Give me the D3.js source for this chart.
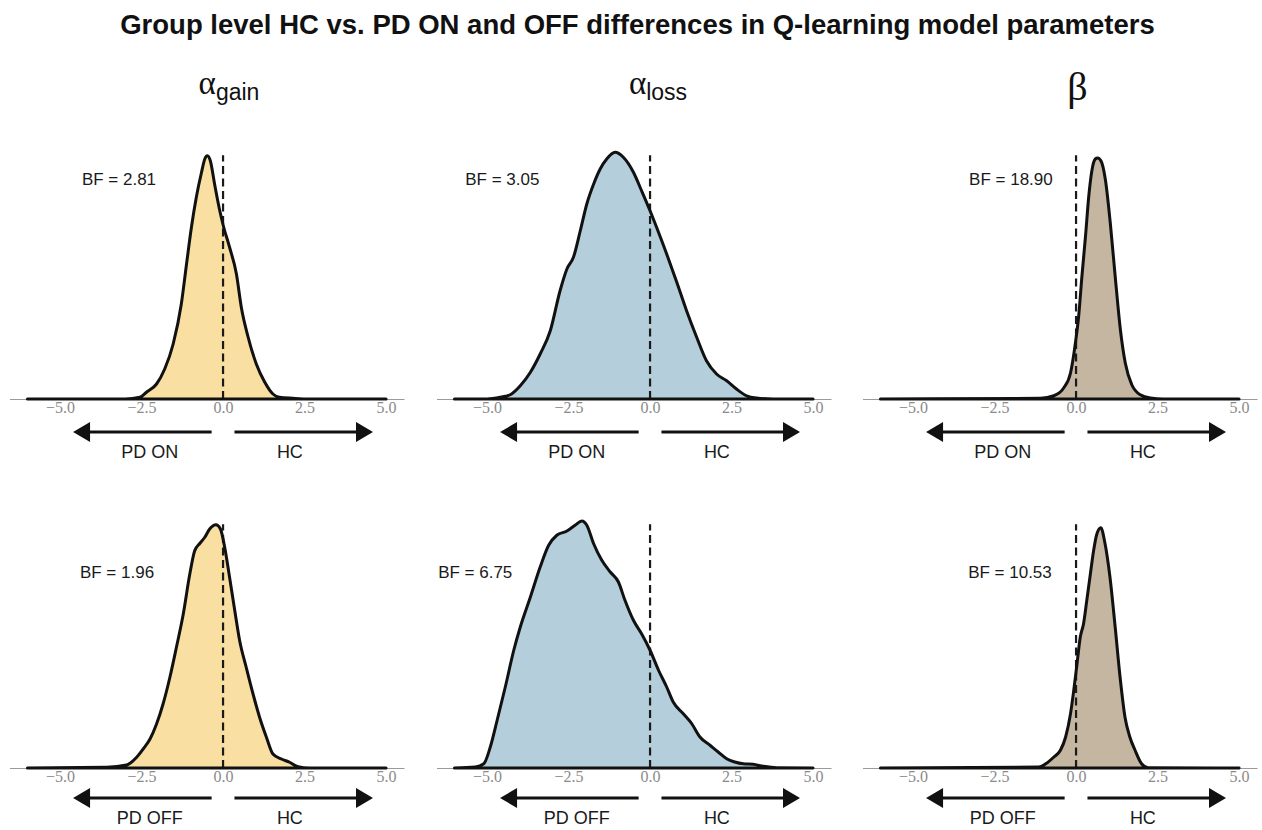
<!DOCTYPE html>
<html>
<head>
<meta charset="utf-8">
<script src="https://cdn.jsdelivr.net/npm/d3@7"></script>
<style>
  body { margin: 0; background: #fff; }
  svg { display: block; }
</style>
</head>
<body>
<svg id="chart" width="1262" height="830"></svg>
<script>
// ---- Data -------------------------------------------------------------
// Posterior densities of the group difference (HC minus PD), scaled so the
// tallest density in the figure is about 1. Each entry is [difference, density].
const densAlphaGainOn = [
  [-6, 0], [-3, 0], [-2.55, 0.007], [-2.35, 0.027], [-2.04, 0.06], [-1.79, 0.12],
  [-1.53, 0.22], [-1.28, 0.38], [-1.12, 0.54], [-0.97, 0.687], [-0.82, 0.807],
  [-0.66, 0.907], [-0.56, 0.96], [-0.48, 0.973], [-0.39, 0.953], [-0.26, 0.86],
  [-0.10, 0.753], [0.02, 0.687], [0.20, 0.607], [0.41, 0.5], [0.56, 0.367],
  [0.77, 0.247], [1.02, 0.14], [1.28, 0.067], [1.53, 0.02], [1.73, 0.007],
  [2.14, 0.003], [2.65, 0], [5, 0]
];
const densAlphaLossOn = [
  [-6, 0], [-5, 0], [-4.59, 0.007], [-4.29, 0.017], [-3.98, 0.053], [-3.67, 0.107],
  [-3.37, 0.18], [-3.06, 0.273], [-2.76, 0.433], [-2.55, 0.52], [-2.35, 0.567],
  [-2.14, 0.673], [-1.94, 0.78], [-1.73, 0.86], [-1.53, 0.92], [-1.33, 0.96],
  [-1.07, 0.987], [-0.82, 0.967], [-0.51, 0.907], [-0.26, 0.833], [0, 0.753],
  [0.20, 0.687], [0.51, 0.58], [0.82, 0.467], [1.12, 0.353], [1.43, 0.247],
  [1.73, 0.153], [2.04, 0.1], [2.35, 0.073], [2.65, 0.04], [2.96, 0.013],
  [3.27, 0.004], [3.78, 0], [5, 0]
];
const densBetaOn = [
  [-6, 0], [-1.09, 0.003], [-0.68, 0.013], [-0.38, 0.044], [-0.17, 0.104],
  [-0.02, 0.224], [0.08, 0.331], [0.18, 0.491], [0.29, 0.651], [0.39, 0.811],
  [0.49, 0.917], [0.59, 0.96], [0.66, 0.964], [0.77, 0.951], [0.90, 0.877],
  [1.05, 0.704], [1.20, 0.491], [1.36, 0.277], [1.51, 0.144], [1.71, 0.057],
  [1.97, 0.017], [2.28, 0.004], [2.68, 0], [5, 0]
];
const densAlphaGainOff = [
  [-6, 0], [-3.57, 0.003], [-2.96, 0.012], [-2.65, 0.043], [-2.45, 0.076],
  [-2.24, 0.116], [-2.04, 0.176], [-1.84, 0.256], [-1.63, 0.363], [-1.43, 0.483],
  [-1.22, 0.616], [-1.02, 0.776], [-0.87, 0.869], [-0.71, 0.899], [-0.56, 0.923],
  [-0.41, 0.956], [-0.22, 0.973], [-0.08, 0.956], [0.05, 0.883], [0.20, 0.763],
  [0.36, 0.629], [0.51, 0.509], [0.71, 0.403], [0.92, 0.296], [1.12, 0.203],
  [1.33, 0.123], [1.53, 0.056], [1.79, 0.036], [2.04, 0.023], [2.30, 0.005],
  [2.65, 0], [5, 0]
];
const densAlphaLossOff = [
  [-6, 0], [-5.36, 0.004], [-5.10, 0.017], [-4.90, 0.084], [-4.69, 0.191],
  [-4.44, 0.324], [-4.18, 0.471], [-3.98, 0.564], [-3.67, 0.684], [-3.37, 0.804],
  [-3.11, 0.891], [-2.86, 0.931], [-2.55, 0.948], [-2.30, 0.971], [-2.09, 0.988],
  [-1.94, 0.971], [-1.73, 0.897], [-1.48, 0.831], [-1.22, 0.784], [-0.97, 0.744],
  [-0.77, 0.671], [-0.51, 0.591], [-0.26, 0.537], [0, 0.471], [0.26, 0.391],
  [0.51, 0.324], [0.71, 0.264], [1.02, 0.217], [1.28, 0.177], [1.53, 0.124],
  [1.84, 0.091], [2.09, 0.064], [2.35, 0.037], [2.60, 0.024], [2.86, 0.017],
  [3.16, 0.015], [3.47, 0.007], [3.88, 0.001], [5, 0]
];
const densBetaOff = [
  [-6, 0], [-1.14, 0.004], [-0.93, 0.017], [-0.68, 0.044], [-0.48, 0.071],
  [-0.32, 0.124], [-0.17, 0.217], [-0.07, 0.311], [0.03, 0.417], [0.13, 0.524],
  [0.23, 0.577], [0.33, 0.671], [0.44, 0.777], [0.54, 0.871], [0.64, 0.937],
  [0.76, 0.961], [0.89, 0.897], [1.04, 0.764], [1.20, 0.564], [1.35, 0.364],
  [1.50, 0.204], [1.65, 0.124], [1.81, 0.071], [2.01, 0.017], [2.21, 0.001],
  [5, 0]
];

// Model parameters (columns) and patient conditions (rows)
const paramSymbols = ["α", "α", "β"];
const paramSubscripts = ["gain", "loss", ""];
const conditions = ["PD ON", "PD OFF"];
const groupHC = "HC";
// Bayes factors per row (condition) and column (parameter)
const bayesOn = [2.81, 3.05, 18.90];
const bayesOff = [1.96, 6.75, 10.53];
const xTicks = [-5, -2.5, 0, 2.5, 5];

const titleText = "Group level HC vs. PD ON and OFF differences in Q-learning model parameters";

// ---- Layout & style ---------------------------------------------------
const colLeft = [9.5, 436.5, 862.5];
const panelWidth = 394.5;
const xDomain = [-6.55, 5.55];
const rowAxisY = [399, 768];
const densityPx = 250;
const headerX = [229, 658, 1077.5];
const bfBaseline = [185, 578];
const bfAnchorX = [[-4.33, -5.67, -3.28], [-4.39, -6.5, -3.31]];
const arrowY = [432, 798];
const arrowLabelY = [458, 824];
const fills = ["#F9DFA1", "#B4CFDB", "#C4B6A0"];
const sans = "'Liberation Sans', Arial, Helvetica, sans-serif";
const serif = "'Liberation Serif', 'Times New Roman', serif";

const rows = [
  { cond: conditions[0], dens: [densAlphaGainOn, densAlphaLossOn, densBetaOn], bf: bayesOn },
  { cond: conditions[1], dens: [densAlphaGainOff, densAlphaLossOff, densBetaOff], bf: bayesOff }
];

const svg = d3.select("#chart");

// Title
svg.append("text")
  .attr("x", 637.5).attr("y", 34)
  .attr("text-anchor", "middle")
  .attr("font-family", sans)
  .attr("font-weight", "bold")
  .attr("font-size", 27.5)
  .attr("fill", "#111")
  .text(titleText);

// Column headers: Greek symbol with a subscript
paramSymbols.forEach((sym, c) => {
  const t = svg.append("text")
    .attr("x", headerX[c])
    .attr("y", c === 2 ? 100 : 94)
    .attr("text-anchor", "middle")
    .attr("fill", "#111");
  t.append("tspan")
    .attr("font-family", serif)
    .attr("font-size", c === 2 ? 40 : 33)
    .text(sym);
  if (paramSubscripts[c]) {
    t.append("tspan")
      .attr("font-family", sans)
      .attr("font-size", 23)
      .attr("dy", 5.5)
      .text(paramSubscripts[c]);
  }
});

const tickFmt = d3.format(".1f");

rows.forEach((row, r) => {
  const axisY = rowAxisY[r];
  const y = d3.scaleLinear().domain([0, 1]).range([axisY, axisY - densityPx]);

  row.dens.forEach((dens, c) => {
    const x = d3.scaleLinear().domain(xDomain).range([colLeft[c], colLeft[c] + panelWidth]);
    const g = svg.append("g");

    // x axis (gray baseline with serif tick labels)
    const axis = g.append("g")
      .attr("transform", `translate(0,${axisY})`)
      .call(d3.axisBottom(x).tickValues(xTicks).tickFormat(tickFmt)
        .tickSize(0).tickSizeOuter(0).tickPadding(3));
    axis.attr("font-size", 16).attr("font-family", serif);
    axis.select(".domain").attr("stroke", "#9a9a9a").attr("stroke-width", 1);
    axis.selectAll("text")
      .attr("font-family", serif)
      .attr("font-size", 16)
      .attr("fill", "#8a8a8a");

    // density fill and outline
    const area = d3.area()
      .x(d => x(d[0]))
      .y0(y(0))
      .y1(d => y(d[1]))
      .curve(d3.curveMonotoneX);
    g.append("path")
      .datum(dens)
      .attr("d", area)
      .attr("fill", fills[c])
      .attr("stroke", "none");

    // zero reference line
    g.append("line")
      .attr("x1", x(0)).attr("x2", x(0))
      .attr("y1", y(0)).attr("y2", y(0.975))
      .attr("stroke", "#1a1a1a")
      .attr("stroke-width", 2.2)
      .attr("stroke-dasharray", "8,4.5");

    g.append("path")
      .datum(dens)
      .attr("d", area)
      .attr("fill", "none")
      .attr("stroke", "#111")
      .attr("stroke-width", 3)
      .attr("stroke-linejoin", "round");

    // Bayes factor annotation
    g.append("text")
      .attr("x", x(bfAnchorX[r][c]))
      .attr("y", bfBaseline[r])
      .attr("font-family", sans)
      .attr("font-size", 17)
      .attr("fill", "#1a1a1a")
      .text(`BF = ${d3.format(".2f")(row.bf[c])}`);

    // direction arrows
    const ay = arrowY[r];
    const headLen = 17, headHalf = 10;
    const arrows = [
      { from: -0.35, tip: -4.6, dir: -1 },
      { from: 0.35, tip: 4.6, dir: 1 }
    ];
    arrows.forEach(a => {
      const xt = x(a.tip);
      g.append("line")
        .attr("x1", x(a.from)).attr("x2", xt - a.dir * (headLen - 2))
        .attr("y1", ay).attr("y2", ay)
        .attr("stroke", "#111").attr("stroke-width", 3);
      g.append("path")
        .attr("d", `M${xt},${ay} L${xt - a.dir * headLen},${ay - headHalf} L${xt - a.dir * headLen},${ay + headHalf} Z`)
        .attr("fill", "#111");
    });

    // direction labels
    g.append("text")
      .attr("x", x(-2.25)).attr("y", arrowLabelY[r])
      .attr("text-anchor", "middle")
      .attr("font-family", sans).attr("font-size", 18).attr("fill", "#1a1a1a")
      .text(row.cond);
    g.append("text")
      .attr("x", x(2.05)).attr("y", arrowLabelY[r])
      .attr("text-anchor", "middle")
      .attr("font-family", sans).attr("font-size", 18).attr("fill", "#1a1a1a")
      .text(groupHC);
  });
});
</script>
</body>
</html>
